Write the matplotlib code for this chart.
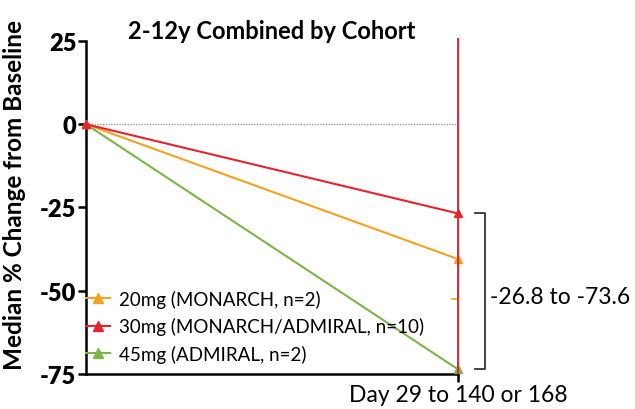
import matplotlib
matplotlib.use("Agg")
import matplotlib.pyplot as plt
from matplotlib.lines import Line2D

plt.rcParams['font.family'] = ['Lato', 'DejaVu Sans']

# Data
timepoints = [0, 1]
x_tick_labels = ["", "Day 29 to 140 or 168"]
labels = ["20mg (MONARCH, n=2)", "30mg (MONARCH/ADMIRAL, n=10)", "45mg (ADMIRAL, n=2)"]
values_20 = [0, -40.5]
values_30 = [0, -26.8]
values_45 = [0, -73.6]
err_20_low = [0, 12.0]
err_20_high = [0, 0]
err_30_low = [0, 48.2]
err_30_high = [0, 52.8]
colors = ["#F4A11F", "#E8232D", "#7BB547"]
y_ticks = [25, 0, -25, -50, -75]
range_text = "-26.8 to -73.6"
range_bounds = [-26.8, -73.6]
title = "2-12y Combined by Cohort"
ylabel = "Median % Change from Baseline"

fig = plt.figure(figsize=(6.35, 4.10), dpi=100)
ax = fig.add_axes([0.1354, 0.0854, 0.5859, 0.8122])

ax.axhline(0, color="#888888", lw=0.9, ls=(0, (1, 1.2)), zorder=1)

# green
ax.plot(timepoints, values_45, color=colors[2], lw=1.5, marker="^", ms=6,
        clip_on=False, zorder=3)
# orange
ax.errorbar(timepoints, values_20, yerr=[err_20_low, err_20_high], color=colors[0],
            lw=1.5, marker="^", ms=6, elinewidth=1.2, capsize=0, clip_on=False, zorder=4)
ax.plot([0.985, 1.0], [values_20[1] - err_20_low[1]] * 2, color=colors[0], lw=1.2,
        clip_on=False, zorder=4)
# red
ax.errorbar(timepoints, values_30, yerr=[err_30_low, err_30_high], color=colors[1],
            lw=1.5, marker="^", ms=6, elinewidth=1.4, capsize=0, clip_on=False, zorder=5)

ax.set_xlim(0, 1)
ax.set_ylim(-75, 25)
ax.set_yticks(y_ticks)
ax.set_yticklabels([str(t) for t in y_ticks], fontsize=17, fontweight="heavy")
ax.set_xticks(timepoints)
ax.set_xticklabels(x_tick_labels, fontsize=16.5)
ax.xaxis.get_major_ticks()[0].tick1line.set_visible(False)
ax.tick_params(axis="y", length=6, width=1.8, direction="out", pad=1)
ax.tick_params(axis="x", length=6, width=1.8, direction="out", pad=1)
for s in ["top", "right"]:
    ax.spines[s].set_visible(False)
for s in ["left", "bottom"]:
    ax.spines[s].set_linewidth(1.8)
ax.set_ylabel(ylabel, fontsize=17.5, fontweight="bold")
ax.yaxis.set_label_coords(-0.16, 0.54)

fig.text(0.428, 0.922, title, fontsize=17, fontweight="bold", ha="center", va="center")

# bracket
bx0, bx1 = 1.046, 1.073
ax.add_line(Line2D([bx0, bx1, bx1, bx0], [range_bounds[0], range_bounds[0], range_bounds[1], range_bounds[1]],
                   color="#333333", lw=1.3, clip_on=False))
ax.text(1.086, (range_bounds[0] + range_bounds[1]) / 2 - 1.5, range_text, fontsize=16.5,
        ha="left", va="center")

# legend
handles = [Line2D([], [], color=c, lw=1.5, marker="^", ms=7) for c in colors]
leg = ax.legend(handles, labels, loc="lower left", bbox_to_anchor=(-0.03, 0.0),
                frameon=False, fontsize=13.5, handlelength=1.3, handletextpad=0.45,
                labelspacing=0.5, borderaxespad=0.2)

fig.savefig("out.png", dpi=100)
